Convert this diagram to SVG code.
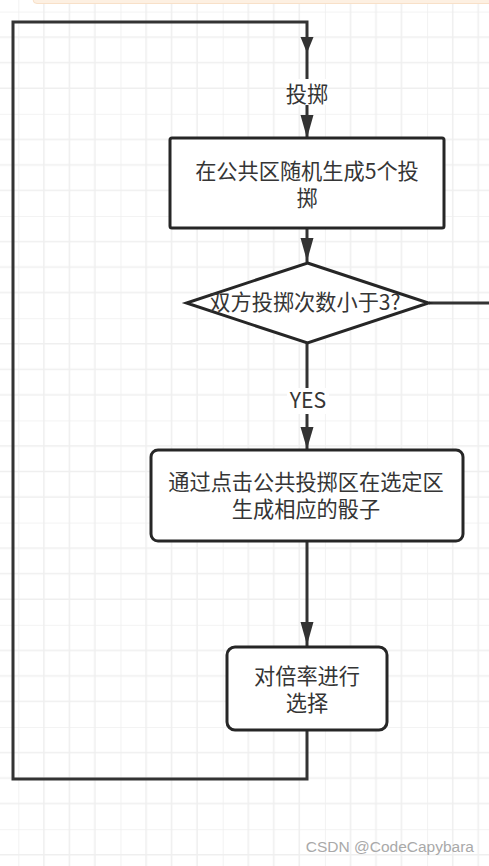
<svg xmlns="http://www.w3.org/2000/svg" width="489" height="866" viewBox="0 0 489 866">
<defs>
<pattern id="grid" patternUnits="userSpaceOnUse" x="18.3" y="11.6" width="102.2" height="102.2">
<path d="M0 0V102.2M25.55 0V102.2M51.1 0V102.2M76.65 0V102.2M0 0H102.2M0 25.55H102.2M0 51.1H102.2M0 76.65H102.2" stroke="#efefef" stroke-width="1.6" fill="none"/>
</pattern>
<style>
.t{font-family:"Noto Sans CJK SC","Noto Sans",sans-serif;font-size:21.2px;fill:#353535;text-anchor:middle}
.node{fill:#fff;stroke:#262626;stroke-width:3}
.ln{fill:none;stroke:#333;stroke-width:3;stroke-linejoin:miter}
.ah{fill:#333}
</style>
</defs>
<rect width="489" height="866" fill="#fff"/>
<rect width="489" height="866" fill="url(#grid)"/>
<rect x="33" y="-10" width="470" height="13.5" rx="4" fill="#fdf0e2" stroke="#f8e0c8" stroke-width="1"/>

<g id="connectors">
<path class="ln" d="M307 731V779H13V22H307V137"/>
<polygon class="ah" points="300.5,37 313.5,37 307,53"/>
<rect x="286" y="79" width="42" height="26" fill="#fff"/>
<text class="t" x="307" y="102">投掷</text>
<polygon class="ah" points="300.5,115 313.5,115 307,138"/>
<path class="ln" d="M307 228V262"/>
<polygon class="ah" points="300.5,238 313.5,238 307,261"/>
<path class="ln" d="M429 303H489"/>
<path class="ln" d="M307 343V450"/>
<rect x="287" y="388" width="42" height="26" fill="#fff"/>
<text class="t" x="308" y="408">YES</text>
<polygon class="ah" points="300.5,427 313.5,427 307,449"/>
<path class="ln" d="M307 542V646"/>
<polygon class="ah" points="300.5,622 313.5,622 307,645"/>
</g>

<g id="n1">
<rect class="node" x="170" y="138" width="274" height="90" rx="2"/>
<text class="t" x="307" y="179">在公共区随机生成5个投<tspan x="307" dy="27">掷</tspan></text>
</g>
<g id="n2">
<polygon class="node" points="307.5,263 428.5,303 307.5,343 186.5,303"/>
<text class="t" x="305" y="310">双方投掷次数小于3?</text>
</g>
<g id="n3">
<rect class="node" x="151" y="450" width="312" height="91" rx="7"/>
<text class="t" x="306" y="490">通过点击公共投掷区在选定区<tspan x="306" dy="27">生成相应的骰子</tspan></text>
</g>
<g id="n4">
<rect class="node" x="227" y="647" width="160" height="83" rx="8"/>
<text class="t" x="307" y="684">对倍率进行<tspan x="307" dy="27">选择</tspan></text>
</g>
<text x="474" y="852" text-anchor="end" font-family="'Liberation Sans',Arial,sans-serif" font-size="15.5" fill="#a9a9a9">CSDN @CodeCapybara</text>
</svg>
